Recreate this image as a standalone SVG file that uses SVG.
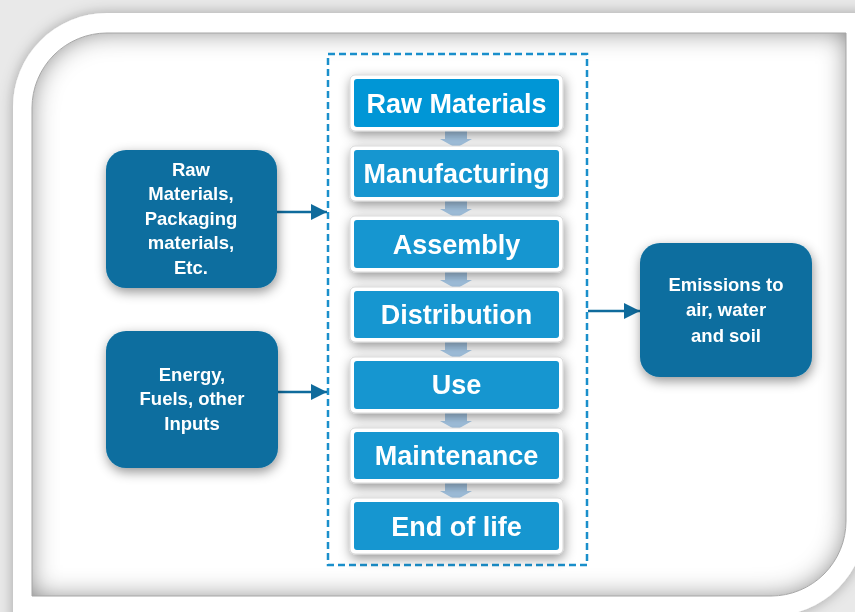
<svg xmlns="http://www.w3.org/2000/svg" width="855" height="612" viewBox="0 0 855 612">
  <style>
    .step-out { fill: #ffffff; stroke: #cfcfcf; stroke-width: 0.8; }
    .step-in { fill: #1396d0; }
    .step-txt { font-family: "Liberation Sans", Arial, sans-serif; font-weight: bold; font-size: 27px; fill: #ffffff; text-anchor: middle; }
    .dark { fill: #0a6e9f; }
    .dark-txt { font-family: "Liberation Sans", Arial, sans-serif; font-weight: bold; font-size: 18.5px; fill: #ffffff; text-anchor: middle; }
    .conn { stroke: #0f6b9c; stroke-width: 2.5; fill: none; }
    .flow { fill: #a9cbe9; }
  </style>
  <defs>
    <filter id="frameShadow" x="-10%" y="-10%" width="120%" height="120%">
      <feGaussianBlur in="SourceAlpha" stdDeviation="7"/>
      <feOffset dx="0" dy="0" result="b"/>
      <feFlood flood-color="#000000" flood-opacity="0.3"/>
      <feComposite in2="b" operator="in"/>
      <feMerge><feMergeNode/><feMergeNode in="SourceGraphic"/></feMerge>
    </filter>
    <filter id="inner" x="0" y="0" width="1" height="1">
      <feGaussianBlur in="SourceAlpha" stdDeviation="13" result="blur"/>
      <feComposite in="SourceAlpha" in2="blur" operator="arithmetic" k2="1" k3="-1" result="edge"/>
      <feFlood flood-color="#707070"/>
      <feComposite in2="edge" operator="in" result="shadow"/>
      <feMerge><feMergeNode in="SourceGraphic"/><feMergeNode in="shadow"/></feMerge>
    </filter>
    <filter id="drop" x="-25%" y="-25%" width="150%" height="160%">
      <feGaussianBlur in="SourceAlpha" stdDeviation="6"/>
      <feOffset dx="1" dy="4" result="b"/>
      <feFlood flood-color="#000000" flood-opacity="0.42"/>
      <feComposite in2="b" operator="in"/>
      <feMerge><feMergeNode/><feMergeNode in="SourceGraphic"/></feMerge>
    </filter>
    <marker id="arr" markerUnits="userSpaceOnUse" markerWidth="17" markerHeight="16" refX="16" refY="8" orient="auto">
      <path d="M0,0 L16,8 L0,16 Z" fill="#0f6b9c"/>
    </marker>
  </defs>

  <!-- background -->
  <rect x="0" y="0" width="855" height="612" fill="#e9e9e9"/>

  <!-- outer white frame -->
  <path d="M107,13 L900,13 L900,521 L866,521 A95,95 0 0 1 771,616 L771,640 L13,640 L13,108 A94,94 0 0 1 107,13 Z" fill="#ffffff" filter="url(#frameShadow)"/>

  <!-- inner panel -->
  <g id="panel">
    <path d="M107,33 L846,33 L846,521 A75,75 0 0 1 771,596 L32,596 L32,108 A75,75 0 0 1 107,33 Z" fill="#ffffff" filter="url(#inner)"/>
    <path d="M107,33 L846,33 L846,521 A75,75 0 0 1 771,596 L32,596 L32,108 A75,75 0 0 1 107,33 Z" fill="none" stroke="#a6a6a6" stroke-width="1"/>
  </g>

  <!-- dashed container -->
  <g id="lifecycle-container">
    <rect x="328" y="54" width="259" height="511" fill="none" stroke="#1a8fcb" stroke-width="2.5" stroke-dasharray="7 4"/>
  </g>

  <!-- connectors -->
  <g id="connectors">
    <path class="flow" d="M445,130 L467,130 L467,139 L472,139 L456,148 L440,139 L445,139 Z"/>
    <path class="flow" d="M445,200 L467,200 L467,209 L472,209 L456,218 L440,209 L445,209 Z"/>
    <path class="flow" d="M445,271 L467,271 L467,280 L472,280 L456,289 L440,280 L445,280 Z"/>
    <path class="flow" d="M445,341 L467,341 L467,350 L472,350 L456,359 L440,350 L445,350 Z"/>
    <path class="flow" d="M445,412 L467,412 L467,421 L472,421 L456,430 L440,421 L445,421 Z"/>
    <path class="flow" d="M445,482 L467,482 L467,491 L472,491 L456,500 L440,491 L445,491 Z"/>
    <line class="conn" x1="277" y1="212" x2="327" y2="212" marker-end="url(#arr)"/>
    <line class="conn" x1="278" y1="392" x2="327" y2="392" marker-end="url(#arr)"/>
    <line class="conn" x1="588" y1="311" x2="640" y2="311" marker-end="url(#arr)"/>
  </g>

  <!-- lifecycle steps -->
  <g id="step-raw" filter="url(#drop)">
    <rect class="step-out" x="350" y="75" width="213" height="56" rx="5"/>
    <rect x="354" y="79" width="205" height="48" rx="3" fill="#0096d6"/>
    <text class="step-txt" x="456.5" y="113">Raw Materials</text>
  </g>
  <g id="step-manufacturing" filter="url(#drop)">
    <rect class="step-out" x="350" y="146" width="213" height="55" rx="5"/>
    <rect class="step-in" x="354" y="150" width="205" height="47" rx="3"/>
    <text class="step-txt" x="456.5" y="183">Manufacturing</text>
  </g>
  <g id="step-assembly" filter="url(#drop)">
    <rect class="step-out" x="350" y="216" width="213" height="56" rx="5"/>
    <rect class="step-in" x="354" y="220" width="205" height="48" rx="3"/>
    <text class="step-txt" x="456.5" y="254">Assembly</text>
  </g>
  <g id="step-distribution" filter="url(#drop)">
    <rect class="step-out" x="350" y="287" width="213" height="55" rx="5"/>
    <rect class="step-in" x="354" y="291" width="205" height="47" rx="3"/>
    <text class="step-txt" x="456.5" y="324">Distribution</text>
  </g>
  <g id="step-use" filter="url(#drop)">
    <rect class="step-out" x="350" y="357" width="213" height="56" rx="5"/>
    <rect class="step-in" x="354" y="361" width="205" height="48" rx="3"/>
    <text class="step-txt" x="456.5" y="394">Use</text>
  </g>
  <g id="step-maintenance" filter="url(#drop)">
    <rect class="step-out" x="350" y="428" width="213" height="55" rx="5"/>
    <rect class="step-in" x="354" y="432" width="205" height="47" rx="3"/>
    <text class="step-txt" x="456.5" y="465">Maintenance</text>
  </g>
  <g id="step-end" filter="url(#drop)">
    <rect class="step-out" x="350" y="498" width="213" height="56" rx="5"/>
    <rect class="step-in" x="354" y="502" width="205" height="48" rx="3"/>
    <text class="step-txt" x="456.5" y="536">End of life</text>
  </g>

  <!-- input / output nodes -->
  <g id="node-materials" filter="url(#drop)">
    <rect class="dark" x="106" y="150" width="171" height="138" rx="20"/>
    <text class="dark-txt" x="191" y="176">Raw</text>
    <text class="dark-txt" x="191" y="200">Materials,</text>
    <text class="dark-txt" x="191" y="225">Packaging</text>
    <text class="dark-txt" x="191" y="249">materials,</text>
    <text class="dark-txt" x="191" y="274">Etc.</text>
  </g>
  <g id="node-energy" filter="url(#drop)">
    <rect class="dark" x="106" y="331" width="172" height="137" rx="20"/>
    <text class="dark-txt" x="192" y="381">Energy,</text>
    <text class="dark-txt" x="192" y="405">Fuels, other</text>
    <text class="dark-txt" x="192" y="430">Inputs</text>
  </g>
  <g id="node-emissions" filter="url(#drop)">
    <rect class="dark" x="640" y="243" width="172" height="134" rx="20"/>
    <text class="dark-txt" x="726" y="291">Emissions to</text>
    <text class="dark-txt" x="726" y="316">air, water</text>
    <text class="dark-txt" x="726" y="342">and soil</text>
  </g>
</svg>
